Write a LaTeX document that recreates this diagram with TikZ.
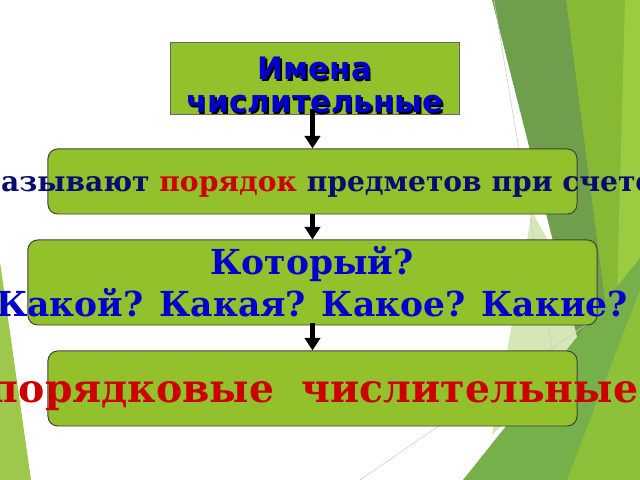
\documentclass[tikz,border=0pt]{standalone}
\usepackage{fontspec}
\setmainfont{DejaVu Serif}
\newfontfamily\headfont{DejaVu Sans}
\usepackage{tikz}
\usetikzlibrary{shapes,arrows.meta}
\usetikzlibrary{positioning}
\definecolor{boxgreen}{HTML}{92C12B}
\definecolor{wedgegreen}{HTML}{6F9E4C}
\definecolor{sidegreen}{HTML}{88B935}
\definecolor{stripgreen}{HTML}{9BCB40}
\definecolor{lowgreen}{HTML}{75B04A}
\definecolor{yellowgreen}{HTML}{8DC13A}
\definecolor{palegreen}{HTML}{D5E7B4}
\definecolor{leftgreen}{HTML}{9DC84B}
\definecolor{navytext}{HTML}{0A0A70}
\definecolor{bluetext}{HTML}{0000CC}
\definecolor{redtext}{HTML}{CC0000}

\begin{document}
\begin{tikzpicture}[x=0.025cm,y=0.025cm,
  box/.style={draw=black!75,fill=boxgreen,line width=0.7pt,rounded corners=7pt,inner sep=0pt},
  arr/.style={line width=3.2pt,-{Triangle[width=11pt,length=9pt]}},
  txt/.style={anchor=base,inner sep=0pt,font=\bfseries}]
\useasboundingbox (0,0) rectangle (640,480);
\clip (0,0) rectangle (640,480);
% background
\fill[sidegreen] (560,480) -- (640,480) -- (640,0) -- (560,0) -- cycle;
\fill[stripgreen] (625,480) -- (640,480) -- (640,0) -- (612,0) -- cycle;
\fill[palegreen] (532,268) -- (598,150) -- (492,45) -- cycle;
\fill[wedgegreen] (492,480) -- (566,480) -- (610,140) -- (578,140) -- cycle;
\fill[lowgreen] (463,0) -- (640,222) -- (640,0) -- cycle;
\fill[yellowgreen] (567,0) -- (640,190) -- (640,0) -- cycle;
\fill[leftgreen] (0,218) -- (31,0) -- (0,0) -- cycle;
\draw[black!20,line width=0.4pt] (494,480) -- (553,125);
\draw[black!20,line width=0.4pt] (590,158) -- (360,0);

% boxes
\node[box,rounded corners=0pt,draw=black!60,minimum width=7.2cm,minimum height=1.775cm] (top) at (315,401.5) {};
\node[box,minimum width=13.225cm,minimum height=1.625cm] (b2) at (312.5,298.5) {};
\node[box,minimum width=14.225cm,minimum height=2.125cm] (b3) at (312.5,197.5) {};
\node[box,minimum width=13.225cm,minimum height=1.875cm] (b4) at (312.5,91.5) {};

% texts
\node[txt,align=center,font=\headfont\bfseries\fontsize{22}{23.5}\selectfont,text=black] (topS) at (316.5,365.5) {Имена\\числительные};
\node[txt,align=center,font=\headfont\bfseries\fontsize{22}{23.5}\selectfont,text=bluetext] (topT) at (315,367) {Имена\\числительные};
\node[txt,font=\bfseries\fontsize{20}{24}\selectfont,text=navytext] (t2) at (314,288) {Называют \textcolor{redtext}{порядок} предметов при счете};
\node[txt,align=center,font=\bfseries\fontsize{24.5}{30}\selectfont,text=bluetext] (t3) at (312,163) {Который?\\Какой? Какая? Какое? Какие?};
\node[txt,font=\bfseries\fontsize{28}{32}\selectfont,text=redtext] (t4) at (314,77) {порядковые\ \ числительные};

% arrows
\draw[arr] ([yshift=4pt]top.south -| b2.north) -- (b2.north);
\draw[arr] (b2.south) -- (b3.north);
\draw[arr] ([yshift=2pt]b3.south) -- (b4.north);
\end{tikzpicture}
\end{document}
